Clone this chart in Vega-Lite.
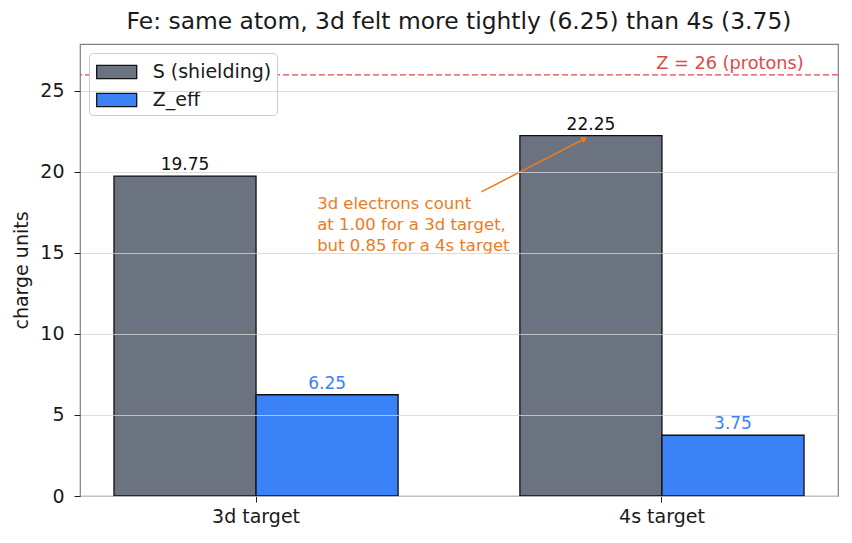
{
  "$schema": "https://vega.github.io/schema/vega-lite/v6.json",
  "width": 758,
  "height": 452,
  "autosize": {"type": "none"},
  "padding": {"left": 80, "top": 44, "right": 14, "bottom": 47},
  "config": {
    "font": "DejaVu Sans",
    "view": {"stroke": "#808080", "strokeWidth": 1.2},
    "axis": {
      "domainColor": "#808080",
      "domainWidth": 1.2,
      "tickColor": "#222222",
      "tickSize": 6,
      "labelFontSize": 19,
      "labelColor": "#1a1a1a",
      "titleFontSize": 19,
      "titleFontWeight": "normal",
      "titleColor": "#1a1a1a",
      "gridColor": "#d4d4d4",
      "gridWidth": 0.8
    },
    "legend": {
      "orient": "top-left",
      "offset": 9,
      "labelFontSize": 19,
      "labelColor": "#1a1a1a",
      "symbolType": "M-1.5,-0.5H1.5V0.5H-1.5Z",
      "symbolSize": 711,
      "symbolStrokeColor": "#111111",
      "symbolStrokeWidth": 1.3,
      "symbolOpacity": 1,
      "symbolOffset": 8.7,
      "strokeColor": "#cccccc",
      "fillColor": "white",
      "cornerRadius": 4,
      "padding": 5,
      "rowPadding": 4,
      "labelOffset": 22
    }
  },
  "title": {
    "text": "Fe: same atom, 3d felt more tightly (6.25) than 4s (3.75)",
    "fontSize": 23.4,
    "fontWeight": "normal",
    "color": "#1a1a1a",
    "offset": 10
  },
  "datasets": {
    "charges": [
      {"target": "3d target", "part": "S (shielding)", "charge": 19.75},
      {"target": "3d target", "part": "Z_eff", "charge": 6.25},
      {"target": "4s target", "part": "S (shielding)", "charge": 22.25},
      {"target": "4s target", "part": "Z_eff", "charge": 3.75}
    ],
    "protons": [{"pos": 1.35, "Z": 26, "label": "Z = 26 (protons)"}],
    "note": [
      {"x0": 0.555, "y0": 18.77, "x1": 0.81, "y1": 22.05, "tx": 0.15, "ty": 18.5,
       "text": "3d electrons count\nat 1.00 for a 3d target,\nbut 0.85 for a 4s target"}
    ]
  },
  "resolve": {"scale": {"x": "independent"}},
  "layer": [
    {
      "data": {"name": "charges"},
      "layer": [
        {
          "mark": {"type": "bar", "stroke": "#111111", "strokeWidth": 1.3},
          "encoding": {
            "x": {
              "field": "target", "type": "nominal",
              "scale": {"paddingInner": 0.3, "paddingOuter": 0.0837},
              "axis": {"title": null, "labelAngle": 0, "labelPadding": 5, "domain": false}
            },
            "xOffset": {"field": "part", "type": "nominal", "scale": {"paddingInner": 0, "paddingOuter": 0}},
            "y": {
              "field": "charge", "type": "quantitative",
              "scale": {"domain": [0, 27.9], "nice": false},
              "axis": {"title": "charge units", "values": [0, 5, 10, 15, 20, 25], "zindex": 1, "titlePadding": 8, "labelPadding": 10, "domain": false}
            },
            "color": {
              "field": "part", "type": "nominal",
              "scale": {"range": ["#6b7280", "#3b82f6"]},
              "legend": {"title": null}
            }
          }
        },
        {
          "mark": {"type": "text", "baseline": "bottom", "dy": -2, "fontSize": 17},
          "encoding": {
            "x": {"field": "target", "type": "nominal"},
            "xOffset": {"field": "part", "type": "nominal"},
            "y": {"field": "charge", "type": "quantitative"},
            "text": {"field": "charge", "type": "quantitative", "format": ".2f"},
            "color": {"condition": {"test": "datum.part === 'Z_eff'", "value": "#3b82f6"}, "value": "#111111"}
          }
        }
      ]
    },
    {
      "data": {"name": "protons"},
      "mark": {"type": "rule", "color": "#e04848", "strokeWidth": 1.3, "strokeDash": [6, 3]},
      "encoding": {"y": {"field": "Z", "type": "quantitative"}}
    },
    {
      "data": {"name": "protons"},
      "mark": {"type": "text", "align": "right", "baseline": "bottom", "dy": -2, "fontSize": 17.7, "color": "#e04848"},
      "encoding": {
        "x": {"field": "pos", "type": "quantitative", "scale": {"domain": [-0.435, 1.435], "nice": false, "zero": false}, "axis": null},
        "y": {"field": "Z", "type": "quantitative"},
        "text": {"field": "label"}
      }
    },
    {
      "data": {"name": "note"},
      "mark": {"type": "rule", "color": "#ee7a1e", "strokeWidth": 1.5},
      "encoding": {
        "x": {"field": "x0", "type": "quantitative", "scale": {"domain": [-0.435, 1.435], "nice": false, "zero": false}, "axis": null},
        "y": {"field": "y0", "type": "quantitative"},
        "x2": {"field": "x1"},
        "y2": {"field": "y1"}
      }
    },
    {
      "data": {"name": "note"},
      "mark": {"type": "point", "shape": "triangle-up", "filled": true, "color": "#ee7a1e", "size": 45, "angle": 63, "opacity": 1},
      "encoding": {
        "x": {"field": "x1", "type": "quantitative", "scale": {"domain": [-0.435, 1.435], "nice": false, "zero": false}, "axis": null},
        "y": {"field": "y1", "type": "quantitative"}
      }
    },
    {
      "data": {"name": "note"},
      "mark": {"type": "text", "align": "left", "baseline": "top", "lineBreak": "\n", "lineHeight": 21, "fontSize": 16.5, "color": "#ee7a1e"},
      "encoding": {
        "x": {"field": "tx", "type": "quantitative", "scale": {"domain": [-0.435, 1.435], "nice": false, "zero": false}, "axis": null},
        "y": {"field": "ty", "type": "quantitative"},
        "text": {"field": "text"}
      }
    }
  ]
}
